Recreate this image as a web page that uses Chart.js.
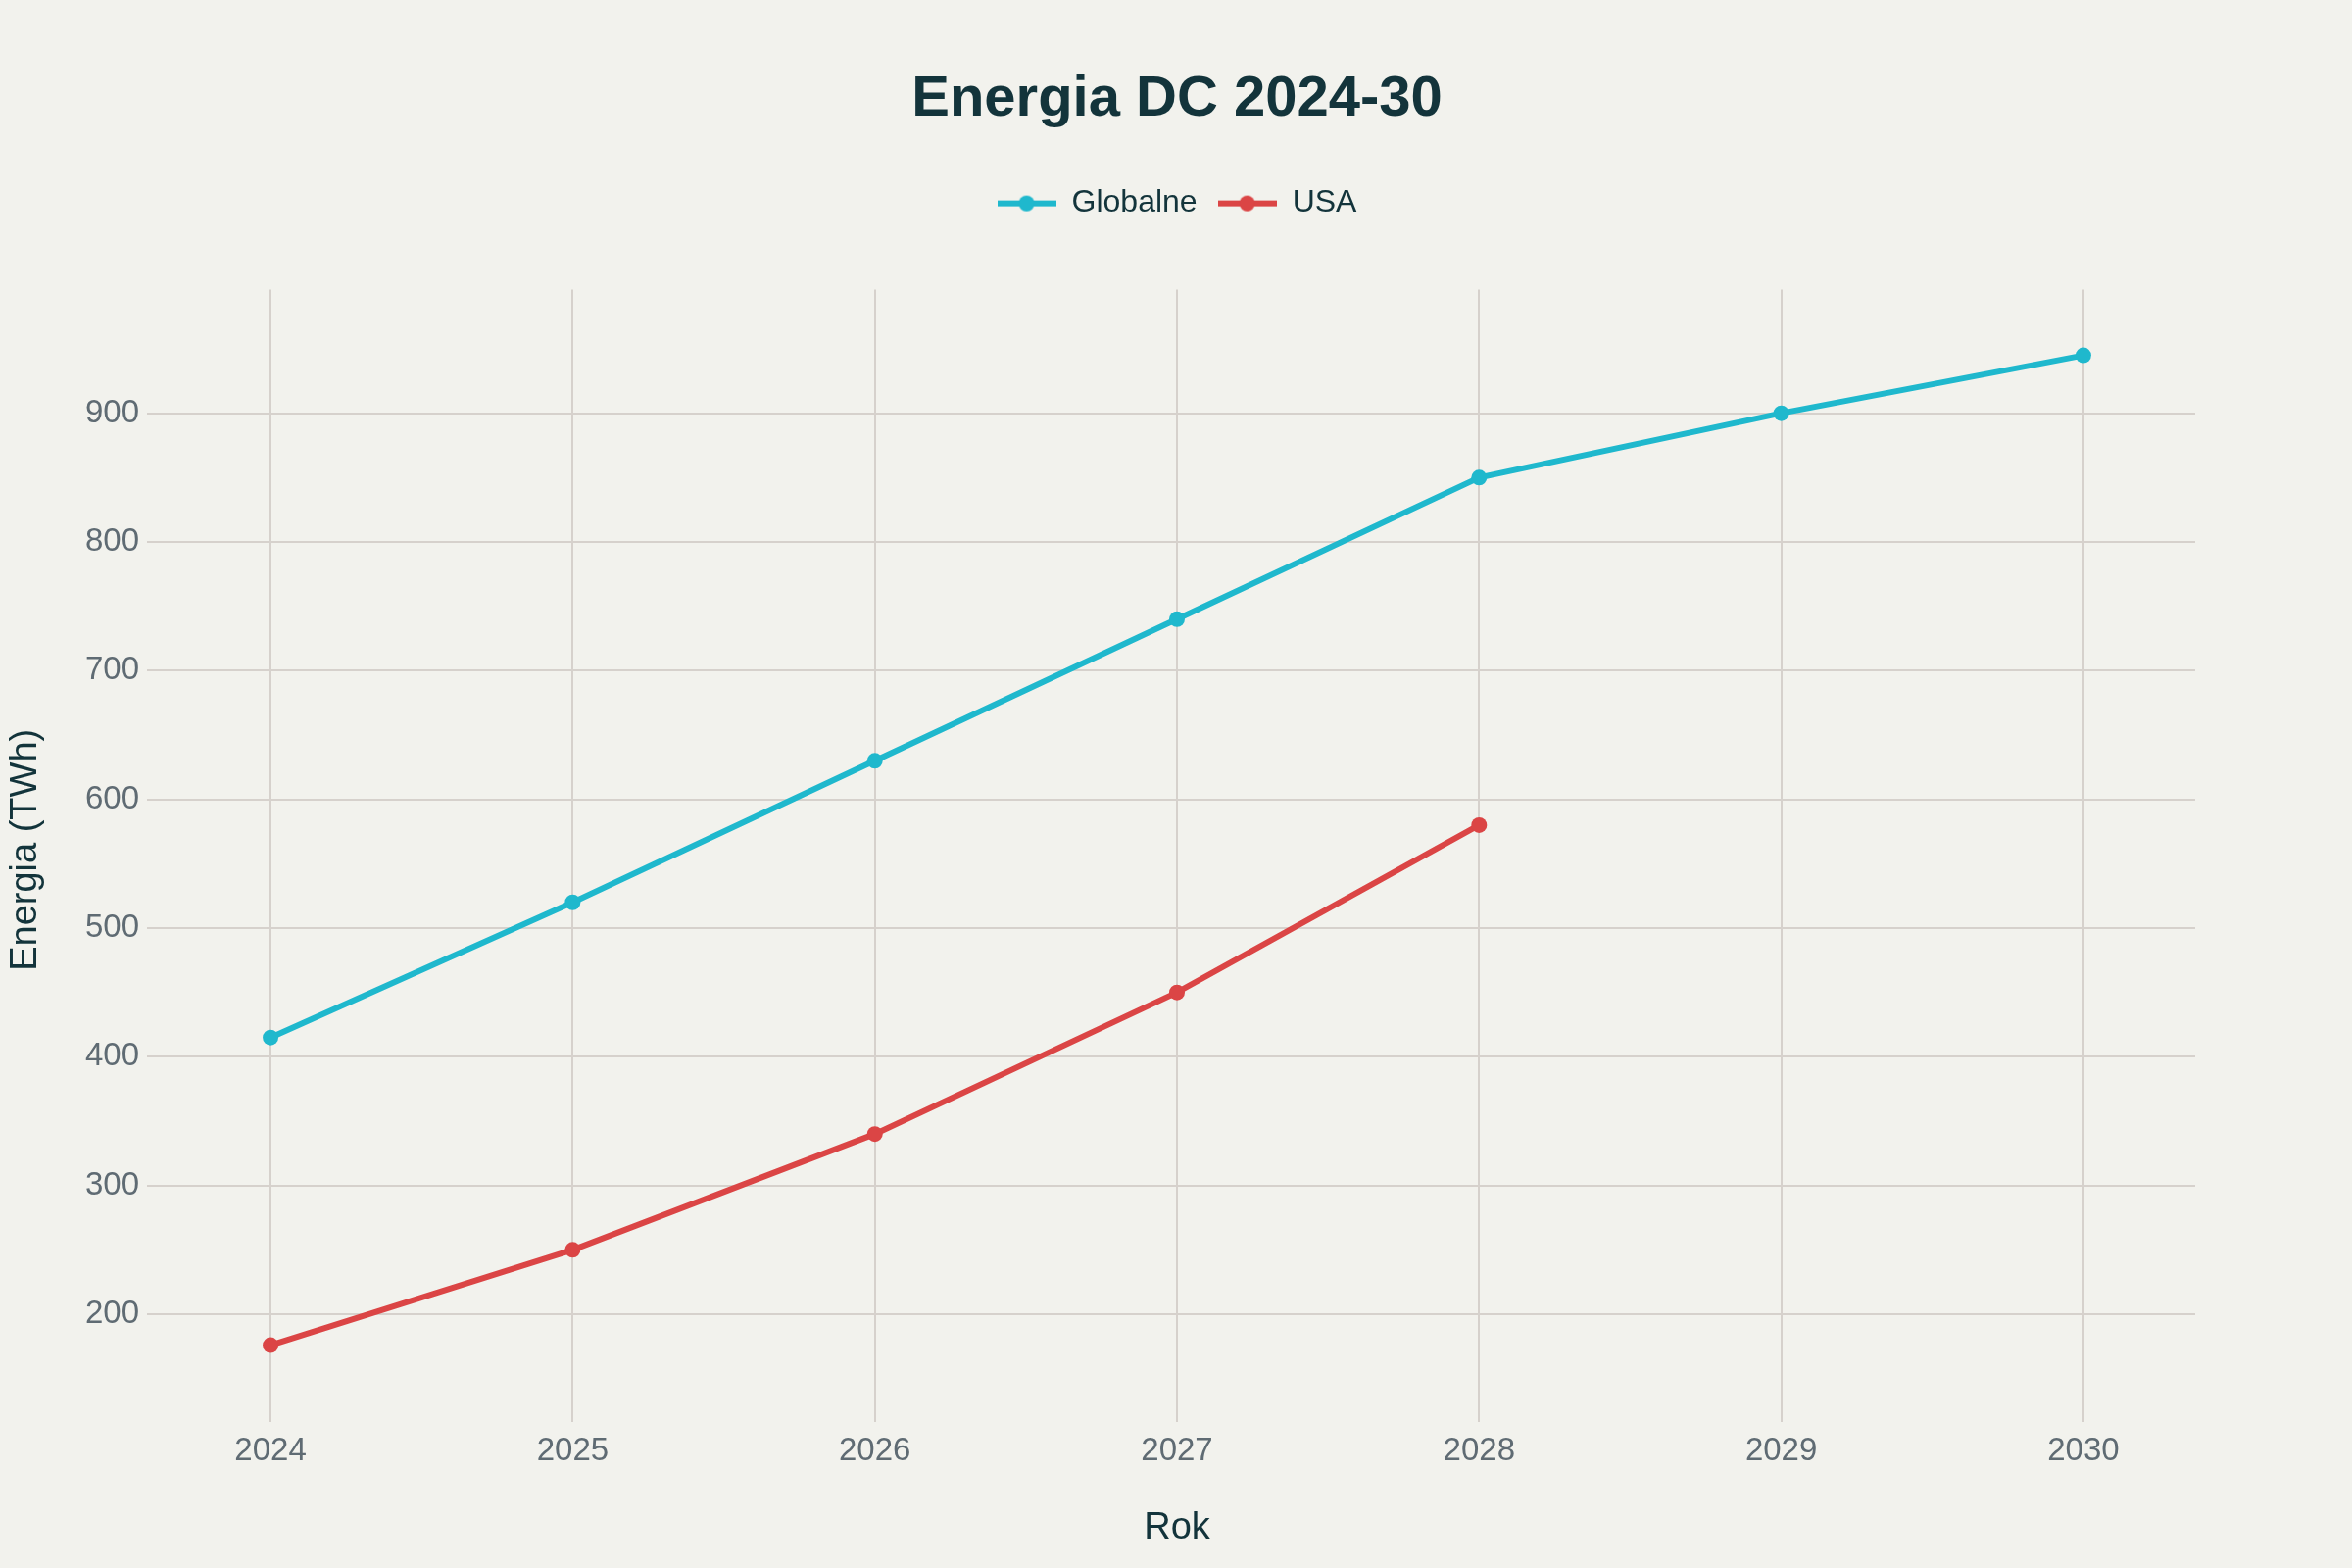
<!DOCTYPE html>
<html>
<head>
<meta charset="utf-8">
<script src="https://cdn.jsdelivr.net/npm/chart.js@4.4.1/dist/chart.umd.min.js"></script>
<style>
  html, body { margin: 0; padding: 0; background: #f2f2ed; }
  #wrap { width: 2400px; height: 1600px; }
</style>
</head>
<body>
<div id="wrap"><canvas id="myChart" width="2400" height="1600"></canvas></div>
<script>
const years = [2024, 2025, 2026, 2027, 2028, 2029, 2030];
const globalne = [415, 520, 630, 740, 850, 900, 945];
const usa = [176, 250, 340, 450, 580];
const yTicks = [200, 300, 400, 500, 600, 700, 800, 900];

const FONT = "'Liberation Sans', Arial, sans-serif";
const DARK = "#13343b";
const GREY = "#5f6b73";
const GRID = "#d6d1cc";
const CYAN = "#1fb8cd";
const RED = "#db4545";

// little line+dot marker for the legend
function legendMark(color) {
	const c = document.createElement("canvas");
	c.width = 60;
	c.height = 20;
	const g = c.getContext("2d");
	g.strokeStyle = color;
	g.lineWidth = 6;
	g.beginPath();
	g.moveTo(0, 10);
	g.lineTo(60, 10);
	g.stroke();
	g.fillStyle = color;
	g.beginPath();
	g.arc(30, 10, 8, 0, Math.PI * 2);
	g.fill();
	return c;
}

const bgPlugin = {
	id: "bg",
	beforeDraw(chart) {
		const ctx = chart.ctx;
		ctx.save();
		ctx.fillStyle = "#f2f2ed";
		ctx.fillRect(0, 0, chart.width, chart.height);
		ctx.restore();
	},
};

const ctx = document.getElementById("myChart");

const data = {
	datasets: [
		{
			label: "Globalne",
			data: globalne.map((v, i) => ({ x: years[i], y: v })),
			borderColor: CYAN,
			backgroundColor: CYAN,
			pointBackgroundColor: CYAN,
			borderWidth: 6,
			pointRadius: 8,
			pointBorderWidth: 0,
			tension: 0,
			fill: false,
		},
		{
			label: "USA",
			data: usa.map((v, i) => ({ x: years[i], y: v })),
			borderColor: RED,
			backgroundColor: RED,
			pointBackgroundColor: RED,
			borderWidth: 6,
			pointRadius: 8,
			pointBorderWidth: 0,
			tension: 0,
			fill: false,
		},
	],
};

const marks = [legendMark(CYAN), legendMark(RED)];

const config = {
	type: "line",
	data: data,
	plugins: [bgPlugin],
	options: {
		responsive: false,
		animation: false,
		devicePixelRatio: 1,
		layout: { padding: { top: 0, right: 160, bottom: 0, left: 0 } },
		plugins: {
			title: {
				display: true,
				fullSize: false,
				text: "Energia DC 2024-30",
				color: DARK,
				font: { family: FONT, size: 58, weight: "bold" },
				padding: { top: 67, bottom: 34 },
			},
			subtitle: {
				display: true,
				fullSize: false,
				text: "",
				weight: 500,
				font: { family: FONT, size: 10 },
				padding: { top: 0, bottom: 50 },
			},
			legend: {
				display: true,
				fullSize: false,
				labels: {
					usePointStyle: true,
					pointStyleWidth: 60,
					padding: 21,
					color: DARK,
					font: { family: FONT, size: 32 },
					generateLabels(chart) {
						const items = Chart.defaults.plugins.legend.labels.generateLabels(chart);
						items.forEach((it, i) => {
							it.pointStyle = marks[i];
						});
						return items;
					},
				},
			},
			tooltip: { enabled: false },
		},
		scales: {
			x: {
				type: "linear",
				min: 2023.63,
				max: 2030.37,
				afterBuildTicks(scale) {
					scale.ticks = years.map((v) => ({ value: v }));
				},
				afterFit(scale) {
					scale.height = 161;
				},
				border: { display: false },
				grid: { color: GRID, lineWidth: 2, tickLength: 12 },
				ticks: {
					color: GREY,
					font: { family: FONT, size: 33 },
					padding: 10,
					maxRotation: 0,
					autoSkip: false,
					callback: (v) => String(v),
				},
				title: {
					display: true,
					text: "Rok",
					color: DARK,
					font: { family: FONT, size: 38 },
					padding: { top: 0, bottom: 18 },
				},
			},
			y: {
				type: "linear",
				min: 125.4,
				max: 996,
				afterBuildTicks(scale) {
					scale.ticks = yTicks.map((v) => ({ value: v }));
				},
				afterFit(scale) {
					scale.width = 162;
				},
				border: { display: false },
				grid: { color: GRID, lineWidth: 2, tickLength: 12 },
				ticks: {
					color: GREY,
					font: { family: FONT, size: 33 },
					padding: 8,
					callback: (v) => String(v),
				},
				title: {
					display: true,
					text: "Energia (TWh)",
					color: DARK,
					font: { family: FONT, size: 38 },
					padding: { top: 4, bottom: 0 },
				},
			},
		},
	},
};

new Chart(ctx, config);
</script>
</body>
</html>
